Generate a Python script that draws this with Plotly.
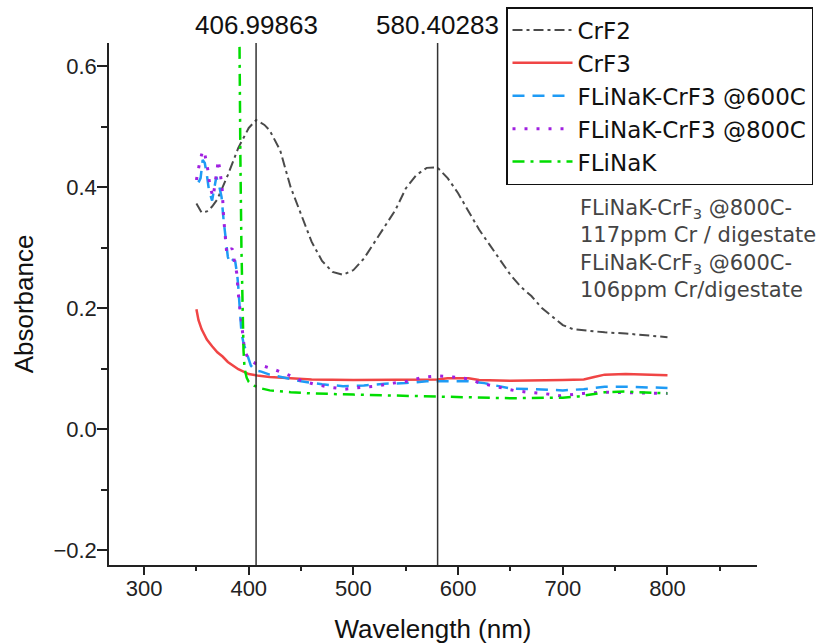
import plotly.graph_objects as go

# ---------------- data ----------------
crf2_x = [350, 355, 360, 365, 370, 380, 390, 400, 407, 415, 420, 430, 440, 450, 460, 470, 480, 490,
          500, 510, 520, 530, 540, 550, 560, 570, 580, 590, 600, 610, 620, 630, 640, 650, 660, 670,
          680, 690, 700, 710, 720, 740, 760, 780, 800]
crf2_y = [0.373, 0.358, 0.360, 0.368, 0.380, 0.420, 0.465, 0.498, 0.511, 0.503, 0.494, 0.461, 0.400,
          0.355, 0.310, 0.278, 0.260, 0.255, 0.263, 0.282, 0.308, 0.335, 0.362, 0.398, 0.420, 0.432,
          0.433, 0.415, 0.390, 0.360, 0.330, 0.305, 0.280, 0.255, 0.235, 0.220, 0.200, 0.186, 0.172,
          0.165, 0.163, 0.160, 0.158, 0.155, 0.152]

crf3_x = [350, 352, 355, 360, 365, 370, 375, 380, 390, 400, 410, 420, 440, 460, 500, 550, 580, 590,
          610, 620, 650, 700, 720, 730, 740, 760, 780, 800]
crf3_y = [0.198, 0.180, 0.165, 0.148, 0.137, 0.127, 0.120, 0.111, 0.099, 0.091, 0.088, 0.086, 0.084,
          0.082, 0.081, 0.081, 0.082, 0.084, 0.084, 0.081, 0.080, 0.081, 0.082, 0.086, 0.090, 0.091,
          0.090, 0.089]

f600_x = [352, 354, 356, 358, 360, 362, 365, 367, 369, 372, 374, 376, 378, 380, 382, 385, 387, 389,
          390, 391.5, 393, 395, 398, 402, 406, 412, 420, 430, 450, 470, 490, 510, 530, 550, 570,
          590, 610, 625, 640, 650, 670, 700, 720, 740, 760, 780, 800]
f600_y = [0.408, 0.415, 0.445, 0.440, 0.420, 0.395, 0.378, 0.400, 0.417, 0.400, 0.384, 0.345, 0.310,
          0.285, 0.274, 0.280, 0.278, 0.255, 0.235, 0.190, 0.160, 0.142, 0.126, 0.105, 0.097, 0.095,
          0.090, 0.086, 0.079, 0.074, 0.071, 0.072, 0.075, 0.076, 0.079, 0.079, 0.079, 0.076, 0.070,
          0.067, 0.066, 0.064, 0.066, 0.070, 0.070, 0.069, 0.068]

f800_x = [350, 353, 356, 358, 361, 363, 366, 369, 371, 373, 374.5, 376, 379, 382, 384, 386, 388.5,
          390, 391.6, 394.6, 396, 400, 407, 422, 436, 449, 463, 478, 492, 508, 522, 538, 552, 567,
          581, 595, 610, 621, 640, 653, 666, 681, 697, 720, 739, 767, 800]
f800_y = [0.412, 0.440, 0.461, 0.455, 0.428, 0.400, 0.384, 0.420, 0.445, 0.420, 0.400, 0.350, 0.290,
          0.295, 0.299, 0.280, 0.258, 0.224, 0.200, 0.158, 0.130, 0.115, 0.108, 0.100, 0.091, 0.081,
          0.074, 0.069, 0.066, 0.069, 0.071, 0.076, 0.079, 0.086, 0.088, 0.086, 0.083, 0.076, 0.069,
          0.064, 0.061, 0.059, 0.055, 0.059, 0.061, 0.060, 0.059]

flinak_x = [390, 391, 392, 393, 394, 395, 396, 398, 400, 405, 410, 420, 440, 460, 500, 550, 600, 650,
            700, 715, 730, 740, 760, 780, 800]
flinak_y = [0.900, 0.600, 0.450, 0.300, 0.200, 0.130, 0.100, 0.085, 0.078, 0.072, 0.068, 0.064, 0.061,
            0.059, 0.057, 0.055, 0.054, 0.051, 0.052, 0.054, 0.058, 0.061, 0.062, 0.060, 0.059]

marker_lines = [406.99863, 580.40283]
marker_labels = ["406.99863", "580.40283"]

x_ticks = [300, 400, 500, 600, 700, 800]
y_ticks = [-0.2, 0.0, 0.2, 0.4, 0.6]
y_tick_labels = ["\u22120.2", "0.0", "0.2", "0.4", "0.6"]

note_lines = ["FLiNaK-CrF<sub>3</sub> @800C-", "117ppm Cr / digestate",
              "FLiNaK-CrF<sub>3</sub> @600C-", "106ppm Cr/digestate"]

# ---------------- figure ----------------
W, H = 838, 644
ML, MR, MT, MB = 109, 81, 43, 79
plot_w = W - ML - MR
plot_h = H - MT - MB

fig = go.Figure()
series = [
    ("CrF2", crf2_x, crf2_y, "#4A4A4A", "10px,4px,3px,4px", 2),
    ("CrF3", crf3_x, crf3_y, "#F04545", "solid", 2.5),
    ("FLiNaK-CrF3 @600C", f600_x, f600_y, "#1E9BF5", "12px,8px", 2.5),
    ("FLiNaK-CrF3 @800C", f800_x, f800_y, "#A020E0", "3px,9px", 3),
    ("FLiNaK", flinak_x, flinak_y, "#00DD00", "12px,6px,3px,6px", 2.5),
]
for name, xs, ys, col, dash, w in series:
    fig.add_trace(go.Scatter(x=xs, y=ys, mode="lines", name=name,
                             line=dict(color=col, dash=dash, width=w)))

for xv, lab in zip(marker_lines, marker_labels):
    fig.add_shape(type="line", xref="x", yref="paper", x0=xv, x1=xv, y0=0, y1=1,
                  line=dict(color="#333333", width=1.5))
    fig.add_annotation(x=xv, xref="x", y=1, yref="paper", yanchor="bottom", text=lab,
                       showarrow=False, yshift=1,
                       font=dict(family="Liberation Sans, Arial", size=26, color="#111111"))

# multi-line note (one text block)
fig.add_annotation(x=(578 - ML) / plot_w, xref="paper", y=(H - MB - 249) / plot_h, yref="paper",
                   text="<br>".join(note_lines), showarrow=False, xanchor="left", yanchor="middle",
                   align="left", font=dict(family="DejaVu Sans", size=21, color="#444444"))

axis_font = dict(family="Liberation Sans, Arial", size=22, color="#222222")
fig.update_layout(
    width=W, height=H,
    margin=dict(l=ML, r=MR, t=MT, b=MB, autoexpand=False),
    paper_bgcolor="white", plot_bgcolor="white",
    showlegend=True,
    legend=dict(x=(506 - ML) / plot_w, y=(H - MB - 7) / plot_h, xanchor="left", yanchor="top",
                bgcolor="white", bordercolor="#111111", borderwidth=1.5,
                font=dict(family="DejaVu Sans", size=23, color="#111111"),
                itemwidth=60, tracegroupgap=0),
    xaxis=dict(range=[266.5, 885.5], tickvals=x_ticks, showgrid=False, zeroline=False,
               automargin=False,
               showline=True, linecolor="#222222", linewidth=1.5,
               ticks="outside", ticklen=8, tickwidth=1.5, tickcolor="#222222",
               tickfont=axis_font, ticklabelstandoff=-5,
               minor=dict(dtick=50, ticks="outside", ticklen=4, tickwidth=1.5, tickcolor="#222222"),
               title=dict(text="Wavelength (nm)", standoff=32,
                          font=dict(family="Liberation Sans, Arial", size=26, color="#111111"))),
    yaxis=dict(range=[-0.2248, 0.6385], tickvals=y_ticks, ticktext=y_tick_labels,
               showgrid=False, zeroline=False, automargin=False,
               showline=True, linecolor="#222222", linewidth=1.5,
               ticks="outside", ticklen=10, tickwidth=1.5, tickcolor="#222222",
               tickfont=axis_font, ticklabelstandoff=-4,
               minor=dict(dtick=0.1, ticks="outside", ticklen=6, tickwidth=1.5, tickcolor="#222222"),
               title=dict(text="Absorbance", standoff=12,
                          font=dict(family="Liberation Sans, Arial", size=26, color="#111111"))),
)

fig.write_html("out.html")
